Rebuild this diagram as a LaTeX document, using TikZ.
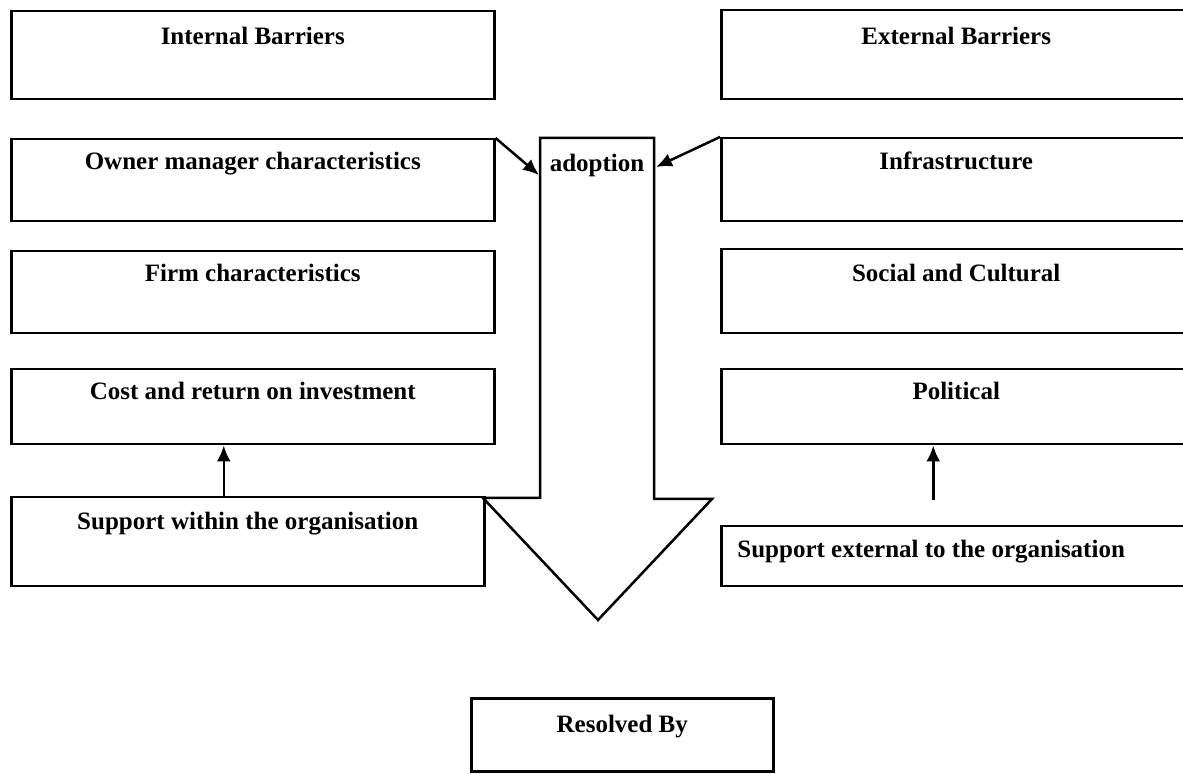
\documentclass[tikz,border=0pt]{standalone}
\usepackage{fontspec}
\setmainfont{Liberation Serif}
\usetikzlibrary{arrows.meta,positioning}
\tikzset{
  barrier/.style={draw, line width=1.25pt, inner sep=0pt, anchor=north west},
  lbl/.style={font=\fontsize{12.5}{14}\selectfont\bfseries, inner sep=0pt, anchor=base},
  link/.style={line width=1.25pt, -{Latex[length=8pt,width=7pt]}}
}
\begin{document}
\begin{tikzpicture}[x=0.5pt,y=-0.5pt]
    \useasboundingbox (0,0) rectangle (1183,774);
    % left column
    \node[barrier, minimum width=241.5pt, minimum height=44pt] (internal) at (10,10) {};
    \node[barrier, minimum width=241.5pt, minimum height=41pt] (owner) at (10,138) {};
    \node[barrier, minimum width=241.5pt, minimum height=41pt] (firm) at (10,250) {};
    \node[barrier, minimum width=241.5pt, minimum height=37.5pt] (cost) at (10,368) {};
    \node[barrier, minimum width=236.5pt, minimum height=44.5pt] (within) at (10,496) {};
    \node[lbl] (internalT) at ([yshift=-17.5pt]internal.north) {Internal Barriers};
    \node[lbl] (ownerT) at ([yshift=-16pt]owner.north) {Owner manager characteristics};
    \node[lbl] (firmT) at ([yshift=-16pt]firm.north) {Firm characteristics};
    \node[lbl] (costT) at ([yshift=-16pt]cost.north) {Cost and return on investment};
    \node[lbl] (withinT) at ([yshift=-17pt]within.north) {Support within the organisation};
    % right column
    \node[barrier, minimum width=235pt, minimum height=44.5pt] (external) at (720,9) {};
    \node[barrier, minimum width=235pt, minimum height=41.5pt] (infra) at (720,137) {};
    \node[barrier, minimum width=235pt, minimum height=42pt] (social) at (720,248) {};
    \node[barrier, minimum width=235pt, minimum height=37.5pt] (political) at (720,368) {};
    \node[barrier, minimum width=235pt, minimum height=30pt] (extsup) at (720,525) {};
    \node[lbl] (externalT) at ([yshift=-18pt]external.north) {External Barriers};
    \node[lbl] (infraT) at ([yshift=-16.5pt]infra.north) {Infrastructure};
    \node[lbl] (socialT) at ([yshift=-17pt]social.north) {Social and Cultural};
    \node[lbl] (politicalT) at ([yshift=-16pt]political.north) {Political};
    \node[lbl, anchor=base west] (extsupT) at ([xshift=8.5pt,yshift=-16.5pt]extsup.north west) {Support external to the organisation};
    % big arrow
    \draw[line width=1.25pt, line join=miter] (540,138) -- (654,138) -- (654,499) -- (712,499)
      -- (598,620) -- (483,498) -- (540,498) -- cycle;
    \node[lbl] (adoption) at (597,172) {adoption};
    \coordinate (inL) at (539,175);
    \coordinate (inR) at (656,167);
    \draw[link] (owner.north east) -- (inL);
    \draw[link] (infra.north west) -- (inR);
    \draw[link] ([xshift=-12pt]within.north) -- ([xshift=-12pt]within.north |- cost.south);
    \draw[link] ([xshift=-11.5pt,yshift=12.5pt]extsup.north) -- ([xshift=-11.5pt]extsup.north |- political.south);
    % result
    \node[barrier, minimum width=151pt, minimum height=36.5pt] (resolved) at (470,697) {};
    \node[lbl] (resolvedT) at ([yshift=-17.5pt]resolved.north) {Resolved By};
\end{tikzpicture}
\end{document}
